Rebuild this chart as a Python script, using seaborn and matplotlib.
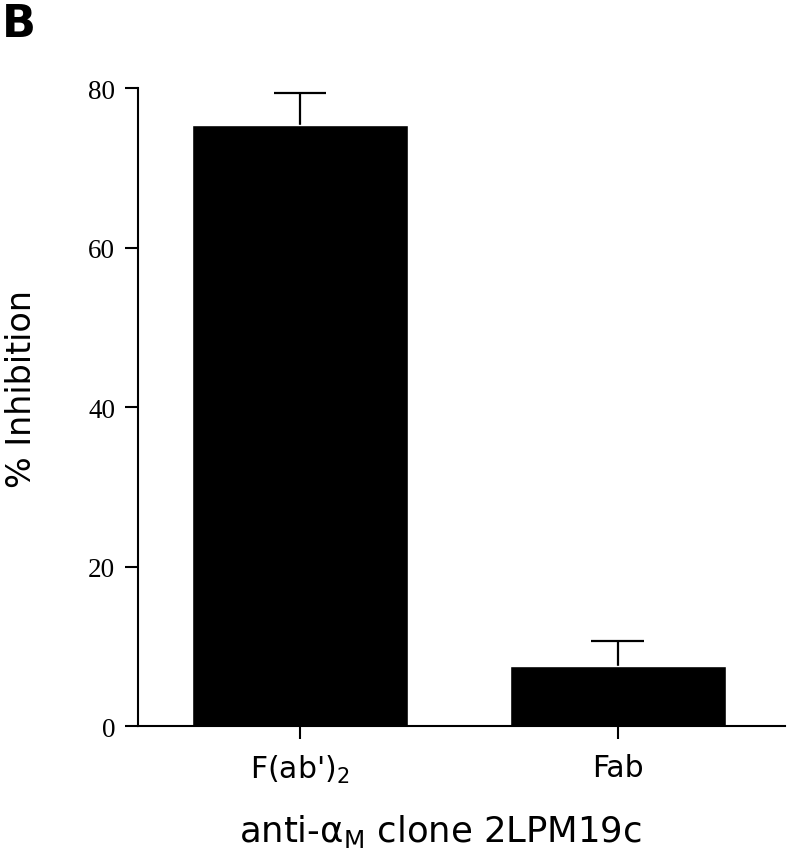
import numpy as np
import pandas as pd
import matplotlib
matplotlib.use('Agg')
import matplotlib.pyplot as plt
import seaborn as sns

# data
categorias = ["F(ab')$_2$", "Fab"]
inibicao = [75.4, 7.6]
erro_sup = [4.0, 3.1]
y_ticks = [0, 20, 40, 60, 80]

sns.set_style("ticks")
plt.rcParams['font.family'] = ['DejaVu Sans']
plt.rcParams['mathtext.fontset'] = 'dejavusans'
plt.rcParams['text.color'] = 'black'
plt.rcParams['axes.labelcolor'] = 'black'
plt.rcParams['xtick.color'] = 'black'
plt.rcParams['ytick.color'] = 'black'

dados = pd.DataFrame({'anticorpo': categorias, 'inibicao': inibicao})

fig = plt.figure(figsize=(7.87, 8.53), dpi=100)
ax = fig.add_axes([0.1753, 0.1474, 0.8217, 0.7479])

sns.barplot(data=dados, x='anticorpo', y='inibicao', color='black',
            width=0.68, saturation=1, errorbar=None, ax=ax)

# only the upper half of the error bars: stem + cap
pos = np.arange(len(categorias))
topo = np.array(inibicao) + np.array(erro_sup)
ax.errorbar(pos, topo, yerr=[erro_sup, np.zeros(len(erro_sup))],
            fmt='none', ecolor='black', elinewidth=1.6, capsize=0, zorder=0.5)
ax.hlines(topo, pos - 0.083, pos + 0.083, color='black', linewidth=1.6)

ax.set_ylim(0, 80)
ax.set_xlim(-0.51, 1.525)
ax.set_yticks(y_ticks)
ax.set_yticklabels([str(v) for v in y_ticks], family='Liberation Serif', fontsize=19.5)
ax.set_xticks(pos)
ax.set_xticklabels(categorias, fontsize=21.5)
ax.tick_params(axis='both', length=9.5, width=1.5, color='black')
ax.tick_params(axis='y', pad=7)
ax.tick_params(axis='x', pad=10)

ax.set_ylabel('% Inhibition', fontsize=24)
ax.set_xlabel('anti-α$_{\\mathrm{M}}$ clone 2LPM19c', fontsize=25.5)
ax.yaxis.set_label_coords(-0.155, 0.531)
ax.xaxis.set_label_coords(0.468, -0.135)

for s in ['top', 'right']:
    ax.spines[s].set_visible(False)
for s in ['left', 'bottom']:
    ax.spines[s].set_linewidth(1.5)
    ax.spines[s].set_color('black')

fig.text(0.003, 0.997, 'B', fontsize=32, fontweight='bold', va='top', ha='left', color='black')

fig.savefig('out.png', dpi=100, facecolor='white')
